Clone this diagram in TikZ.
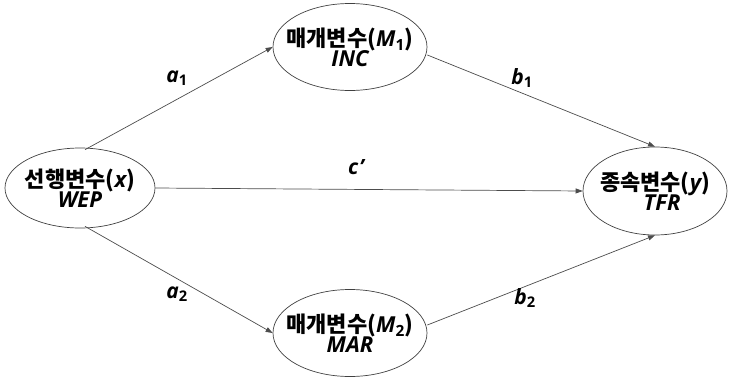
\documentclass[tikz,border=0pt]{standalone}
\usepackage{fontspec}
\setmainfont{Noto Sans CJK KR}
\newfontfamily\latf{Open Sans}
\usetikzlibrary{shapes.geometric,arrows.meta}
\tikzset{
  var/.style={draw=black!75, line width=0.7pt, ellipse, inner sep=0pt},
  txt/.style={align=center, inner sep=0pt, font=\fontsize{22}{24}\selectfont\bfseries},
  conn/.style={draw=black!70, line width=0.7pt, -{Triangle[length=7pt,width=5pt]}},
  lab/.style={font=\latf\fontsize{21}{24}\selectfont\bfseries\itshape}
}
\newcommand{\lt}[1]{{\latf\itshape #1}}
\newcommand{\sbu}[1]{\textsubscript{\latf\upshape #1}}
\begin{document}
\begin{tikzpicture}[x=1pt,y=-1pt]
\useasboundingbox (0,0) rectangle (730,380);
\node[var, minimum width=154pt, minimum height=87pt] (m1) at (350,47) {};
\node[var, minimum width=150pt, minimum height=80pt] (x) at (80,188) {};
\node[var, minimum width=144pt, minimum height=88pt] (y) at (655,191) {};
\node[var, minimum width=154pt, minimum height=87pt] (m2) at (350,333) {};
\node[txt] (m1t) at (m1.center) {매개변수(\lt{M}\sbu{1})\\[-4pt]\lt{INC}};
\node[txt] (xt) at (x.center) {선행변수(\lt{x})\\[-4pt]\lt{WEP}};
\node[txt] (yt) at (y.center) {종속변수(\lt{y})\\[-4pt]\hspace*{14pt}\lt{TFR}};
\node[txt] (m2t) at (m2.center) {매개변수(\lt{M}\sbu{2})\\[-4pt]\lt{MAR}};
\draw[conn] (x.north) ++(5,2) coordinate (xa) (xa) -- (m1.west);
\draw[conn] (x.south) ++(5,-2) coordinate (xb) (xb) -- (m2.west);
\draw[conn] (x.east) -- (y.west);
\draw[conn] (m1.east) ++(0,8) coordinate (m1e) (m1e) -- (y.north);
\draw[conn] (m2.east) ++(0,-8) coordinate (m2e) (m2e) -- (y.south);
\node[lab] (la1) at (177,78) {a\sbu{1}};
\node[lab] (lb1) at (522,78) {b\sbu{1}};
\node[lab] (lc) at (356,167) {c\kern1pt\textquoteright};
\node[lab] (la2) at (177,294) {a\sbu{2}};
\node[lab] (lb2) at (525,298) {b\sbu{2}};
\end{tikzpicture}
\end{document}
